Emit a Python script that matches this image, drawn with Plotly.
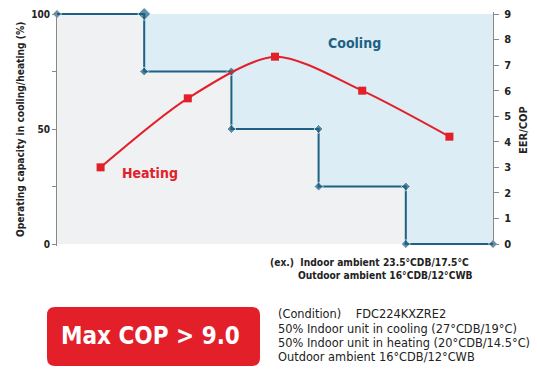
import plotly.graph_objects as go

# Operating capacity steps (%) across the capacity-control stages
step_x = [0, 1, 1, 2, 2, 3, 3, 4, 4, 5]
step_y = [100, 100, 75, 75, 50, 50, 25, 25, 0, 0]
marker_sizes = [7, 10, 7, 7, 7, 7, 7, 7, 7, 7]

# EER/COP curve
cop_x = [0.5, 1.5, 2.5, 3.5, 4.5]
cop_y = [3.0, 5.7, 7.33, 6.0, 4.2]

left_ticks = [0, 25, 50, 75, 100]
left_text = ["0", "", "50", "", "100"]
right_ticks = list(range(10))

BLUE = "#1e6184"
RED = "#e3202a"
NARROW = "DejaVu Sans Condensed, Liberation Sans Narrow, Arial Narrow, sans-serif"
PLAIN = "DejaVu Sans, Liberation Sans, Arial, Helvetica"

W, H = 537, 369
L, R = 57, 493
T, B = 12, 246          # plot box, with 2 px of headroom around 0 and 100
Y100, Y0 = 14, 244      # pixel rows of the 100 % and 0 % levels
PAD = 2 * 100 / (Y0 - Y100)


def px(x):
    return (x - L) / (R - L)


def py(y):
    return (B - y) / (B - T)


fig = go.Figure()

# grey operating field behind everything
fig.add_shape(type="rect", xref="x", yref="y", x0=0, x1=5, y0=0, y1=100,
              fillcolor="#eff1f3", line=dict(width=0), layer="below")

# cooling region above the step line
fig.add_trace(go.Scatter(
    x=step_x + [step_x[-1], step_x[0]],
    y=step_y + [max(step_y), max(step_y)],
    fill="toself", fillcolor="#dcedf5", line=dict(width=0),
    mode="lines", hoverinfo="skip", showlegend=False))

fig.add_trace(go.Scatter(
    x=step_x, y=step_y, mode="lines+markers", cliponaxis=False,
    line=dict(color=BLUE, width=2),
    marker=dict(symbol="diamond", size=marker_sizes, color=BLUE),
    showlegend=False))

fig.add_trace(go.Scatter(
    x=cop_x, y=cop_y, yaxis="y2", mode="lines+markers",
    line=dict(color=RED, width=2, shape="spline", smoothing=0.8),
    marker=dict(symbol="square", size=8, color=RED),
    showlegend=False))

# rounded red badge
x0, x1, y0, y1, r = 47, 260, 307, 366, 8
path = (f"M {px(x0 + r)} {py(y0)} L {px(x1 - r)} {py(y0)} "
        f"Q {px(x1)} {py(y0)} {px(x1)} {py(y0 + r)} L {px(x1)} {py(y1 - r)} "
        f"Q {px(x1)} {py(y1)} {px(x1 - r)} {py(y1)} L {px(x0 + r)} {py(y1)} "
        f"Q {px(x0)} {py(y1)} {px(x0)} {py(y1 - r)} L {px(x0)} {py(y0 + r)} "
        f"Q {px(x0)} {py(y0)} {px(x0 + r)} {py(y0)} Z")
fig.add_shape(type="path", path=path, xref="paper", yref="paper",
              fillcolor=RED, line=dict(width=0))

annotations = [
    dict(x=px(20), y=py(130), text="<b>Operating capacity in cooling/heating (%)</b>",
         textangle=-90, font=dict(family=NARROW, size=10.2, color="#222")),
    dict(x=px(523), y=py(130), text="<b>EER/COP</b>",
         textangle=-90, font=dict(family=NARROW, size=11, color="#222")),
    dict(x=px(150), y=py(173), text="<b>Heating</b>",
         font=dict(family=NARROW, size=14, color=RED)),
    dict(x=px(354), y=py(43), text="<b>Cooling</b>",
         font=dict(family=NARROW, size=14, color=BLUE)),
    dict(x=px(268), y=py(262), text="<b>(ex.)  Indoor ambient 23.5°CDB/17.5°C</b>",
         xanchor="left", font=dict(family=NARROW, size=10.2, color="#222")),
    dict(x=px(296), y=py(275), text="<b>Outdoor ambient 16°CDB/12°CWB</b>",
         xanchor="left", font=dict(family=NARROW, size=10.2, color="#222")),
    dict(x=px(150), y=py(336), text="<b>Max COP &gt; 9.0</b>",
         font=dict(family=NARROW, size=24, color="white")),
    dict(x=px(276), y=py(314), text="(Condition)    FDC224KXZRE2",
         xanchor="left", font=dict(family=PLAIN, size=11.4, color="#222")),
    dict(x=px(276), y=py(329), text="50% Indoor unit in cooling (27°CDB/19°C)",
         xanchor="left", font=dict(family=PLAIN, size=11.4, color="#222")),
    dict(x=px(276), y=py(343), text="50% Indoor unit in heating (20°CDB/14.5°C)",
         xanchor="left", font=dict(family=PLAIN, size=11.4, color="#222")),
    dict(x=px(276), y=py(357), text="Outdoor ambient 16°CDB/12°CWB",
         xanchor="left", font=dict(family=PLAIN, size=11.4, color="#222")),
]
for a in annotations:
    a.update(xref="paper", yref="paper", showarrow=False, yanchor="middle")
    a.setdefault("xanchor", "center")

fig.update_layout(
    width=W, height=H,
    margin=dict(l=L, r=W - R, t=T, b=H - B, autoexpand=False),
    paper_bgcolor="white", plot_bgcolor="white",
    annotations=annotations,
    xaxis=dict(range=[0, 5], showgrid=False, zeroline=False,
               showticklabels=False, ticks="", showline=False, fixedrange=True),
    yaxis=dict(range=[-PAD, 100 + PAD], tickvals=left_ticks, ticktext=left_text,
               ticks="outside", ticklen=4, tickcolor="#888",
               showline=True, linecolor="#888", linewidth=1,
               showgrid=False, zeroline=False, automargin=False,
               tickfont=dict(family=NARROW, size=10, color="#222", weight="bold")),
    yaxis2=dict(range=[-PAD * 0.09, 9 + PAD * 0.09], tickvals=right_ticks,
                overlaying="y", side="right",
                ticks="outside", ticklen=5, tickcolor="#888",
                showline=True, linecolor="#888", linewidth=1,
                showgrid=False, zeroline=False, ticklabelstandoff=3,
                automargin=False,
                tickfont=dict(family=NARROW, size=11, color="#222", weight="bold")),
)

fig.write_html("out.html")
